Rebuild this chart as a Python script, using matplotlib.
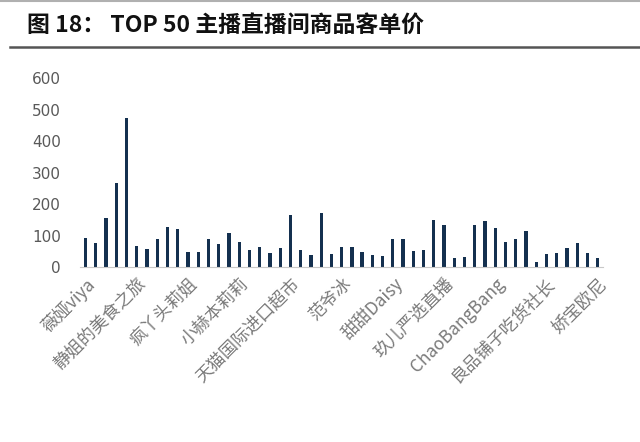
import matplotlib
matplotlib.use("Agg")
import matplotlib.pyplot as plt
from matplotlib.lines import Line2D

plt.rcParams['font.family'] = ['Noto Sans CJK SC', 'DejaVu Sans']

# Average order value per live room, 51 bars
values = [92, 77, 156, 266, 472, 69, 59, 89, 127, 122,
          48, 48, 89, 74, 108, 80, 55, 65, 46, 63,
          165, 56, 41, 171, 43, 64, 64, 48, 40, 36,
          89, 91, 52, 55, 150, 135, 30, 32, 134, 146,
          124, 81, 89, 116, 17, 42, 46, 62, 78, 46, 29]
# only every 5th category name is shown on the axis
tick_labels = ["薇娅viya", "静姐的美食之旅", "疯丫头莉姐", "小赫本莉莉", "天猫国际进口超市",
               "范爷冰", "甜甜Daisy", "玖儿严选直播", "ChaoBangBang", "良品铺子吃货社长", "娇宝欧尼"]
y_ticks = [0, 100, 200, 300, 400, 500, 600]

fig = plt.figure(figsize=(6.4, 4.42), dpi=100)
ax = fig.add_axes([0.1256, 0.3948, 0.8164, 0.4287])

ax.bar(range(len(values)), values, width=0.32, color="#14304f")

ax.set_xlim(-0.5, len(values) - 0.5)
ax.set_ylim(0, 600)
ax.set_yticks(y_ticks)
ax.set_yticklabels([str(t) for t in y_ticks], color="#595959", fontsize=11,
                   family=["DejaVu Sans"])
ax.set_xticks(range(0, len(values), 5))
ax.set_xticklabels(tick_labels, rotation=45, ha="right", rotation_mode="anchor",
                   color="#7a7a7a", fontsize=12.5)

for side in ["top", "right", "left"]:
    ax.spines[side].set_visible(False)
ax.spines["bottom"].set_color("#c8c8c8")
ax.tick_params(axis="both", length=0)
ax.tick_params(axis="y", pad=14)
ax.tick_params(axis="x", pad=5)

# title and the rules above / below it
fig.text(0.042, 0.943, "图 18： TOP 50 主播直播间商品客单价", fontsize=16.5,
         fontweight="bold", color="#111111", va="center", ha="left")
fig.add_artist(Line2D([0.0, 1.0], [0.997, 0.997], color="#b0b0b0", lw=1.5))
fig.add_artist(Line2D([0.016, 1.0], [0.894, 0.894], color="#555555", lw=1.8))

fig.savefig("out.png", dpi=100)
